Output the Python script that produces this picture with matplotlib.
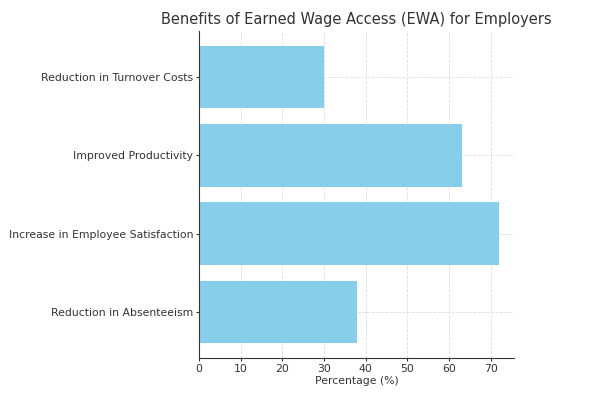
import matplotlib
matplotlib.use("Agg")
import matplotlib.pyplot as plt

categories = ["Reduction in Absenteeism", "Increase in Employee Satisfaction",
              "Improved Productivity", "Reduction in Turnover Costs"]
values = [38, 72, 63, 30]

W, H = 594, 394
fig = plt.figure(figsize=(W/100, H/100), dpi=100)
ax = fig.add_axes([199/W, 1-358/H, (514-199)/W, (358-31)/H])

ax.barh(categories, values, color="skyblue", height=0.8, zorder=2)
ax.set_title("Benefits of Earned Wage Access (EWA) for Employers", fontsize=10.5,
             color="#333333", pad=5)
ax.set_xlabel("Percentage (%)", fontsize=7.8, color="#333333", labelpad=2)
ax.tick_params(axis="both", labelsize=7.8, colors="#333333", length=2.5, width=0.8, pad=1.5)
ax.grid(True, linestyle="--", color="#dddddd", linewidth=0.6, zorder=0)
for s in ["top", "right"]:
    ax.spines[s].set_visible(False)
for s in ["left", "bottom"]:
    ax.spines[s].set_color("#333333")
ax.set_xticks(range(0, 80, 10))
fig.savefig("out.png", dpi=100)
